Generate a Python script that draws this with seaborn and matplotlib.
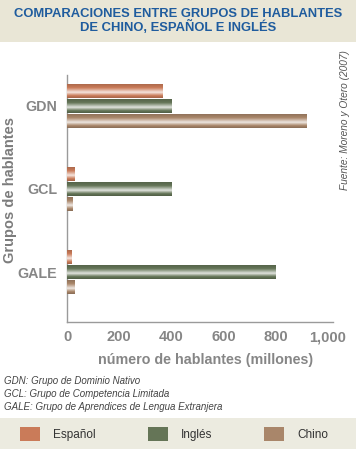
import numpy as np
import pandas as pd
import matplotlib
matplotlib.use("Agg")
import matplotlib.pyplot as plt
import matplotlib.colors as mcolors
from matplotlib.patches import Rectangle
import seaborn as sns

# datos (millones de hablantes)
grupos = ["GDN", "GCL", "GALE"]
idiomas = ["Español", "Inglés", "Chino"]
espanol = [365, 30, 18]
ingles = [400, 400, 800]
chino = [920, 23, 30]
ticks_x = [0, 200, 400, 600, 800, 1000]
tick_labels = ["0", "200", "400", "600", "800", "1,000"]

colores = {"Español": "#dd7446", "Inglés": "#647a52", "Chino": "#b4855f"}
gris = "#868686"

df = pd.DataFrame({
    "grupo": grupos * 3,
    "idioma": [i for i in idiomas for _ in grupos],
    "hablantes": espanol + ingles + chino,
})

sns.set_style("white")
plt.rcParams["font.family"] = ["Liberation Sans", "DejaVu Sans"]

fig = plt.figure(figsize=(3.56, 4.5), dpi=100)
ax = fig.add_axes([67 / 356, 1 - 322 / 450, 266 / 356, 247 / 450])

sns.barplot(data=df, y="grupo", x="hablantes", hue="idioma", hue_order=idiomas,
            palette=colores, orient="h", width=0.54, gap=0.05, ax=ax,
            edgecolor="none", linewidth=0)

# sombreado tipo cilindro
def grad(c):
    base = np.array(mcolors.to_rgb(c))
    dark = base * 0.82
    light = base + (1 - base) * 0.8
    pos = [0, 0.3, 0.62, 0.85, 1]
    cols = [dark, base, light, base, dark]
    t = np.linspace(0, 1, 30)
    arr = np.stack([np.interp(t, pos, [cc[k] for cc in cols]) for k in range(3)], axis=1)
    return arr[:, None, :]

handles, labels = ax.get_legend_handles_labels()
bars = [p for p in ax.patches if p.get_width() > 0]
for p in bars:
    x, y, w, h = p.get_x(), p.get_y(), p.get_width(), p.get_height()
    im = ax.imshow(grad(p.get_facecolor()), extent=(x, x + w, y + h, y),
                   origin="upper", aspect="auto", zorder=3)
    im.set_clip_path(p)

ax.set_xlim(0, 1020)
ax.set_ylim(2.6, -0.37)
ax.legend_.remove()

ax.set_xticks(ticks_x)
ax.set_xticklabels(tick_labels)
ax.tick_params(axis="x", colors=gris, direction="inout", length=4, width=2.5,
               labelsize=10.5, pad=4)
ax.tick_params(axis="y", length=0, labelsize=10.3, colors=gris, pad=7)
for lab in ax.get_xticklabels() + ax.get_yticklabels():
    lab.set_fontweight("bold")
ax.set_xlabel("número de hablantes (millones)", fontsize=10.3, fontweight="bold",
              color=gris)
ax.xaxis.set_label_coords(0.52, -0.125)
ax.set_ylabel("")
sns.despine(ax=ax)
for s in ["left", "bottom"]:
    ax.spines[s].set_color("#9a9a9a")
    ax.spines[s].set_linewidth(1)

fig.text(10 / 356, 1 - 190 / 450, "Grupos de hablantes", rotation=90, fontsize=10.5,
         fontweight="bold", color="#7c7c7c", ha="center", va="center")
fig.text(345 / 356, 1 - 120 / 450, "Fuente: Moreno y Otero (2007)", rotation=90,
         fontsize=7.3, style="italic", color="#555555", ha="center", va="center")

# banda del titulo
fig.patches.append(Rectangle((0, 1 - 42 / 450), 1, 42 / 450, transform=fig.transFigure,
                             facecolor="#e9e6d6", edgecolor="none", zorder=0))
fig.text(0.5, 1 - 21 / 450, "COMPARACIONES ENTRE GRUPOS DE HABLANTES\nDE CHINO, ESPAÑOL E INGLÉS",
         ha="center", va="center", fontsize=9.4, color="#1f5c9e", linespacing=1.05,
         fontweight="bold")

notas = ["GDN: Grupo de Dominio Nativo",
         "GCL: Grupo de Competencia Limitada",
         "GALE: Grupo de Aprendices de Lengua Extranjera"]
for i, n in enumerate(notas):
    fig.text(4 / 356, 1 - (381 + 13 * i) / 450, n, fontsize=7, style="italic",
             color="#444444", va="center")

# banda de la leyenda
fig.patches.append(Rectangle((0, 1 - 449 / 450), 1, 31 / 450, transform=fig.transFigure,
                             facecolor="#ecebe0", edgecolor="none", zorder=0))
fig.legend(handles, labels, loc="center", bbox_to_anchor=(0.49, 1 - 434 / 450),
           ncol=3, frameon=False, fontsize=8.5, handlelength=1.7, handleheight=1.5,
           columnspacing=4.4, handletextpad=1.1, labelcolor="#333333")

fig.savefig("out.png", dpi=100)
